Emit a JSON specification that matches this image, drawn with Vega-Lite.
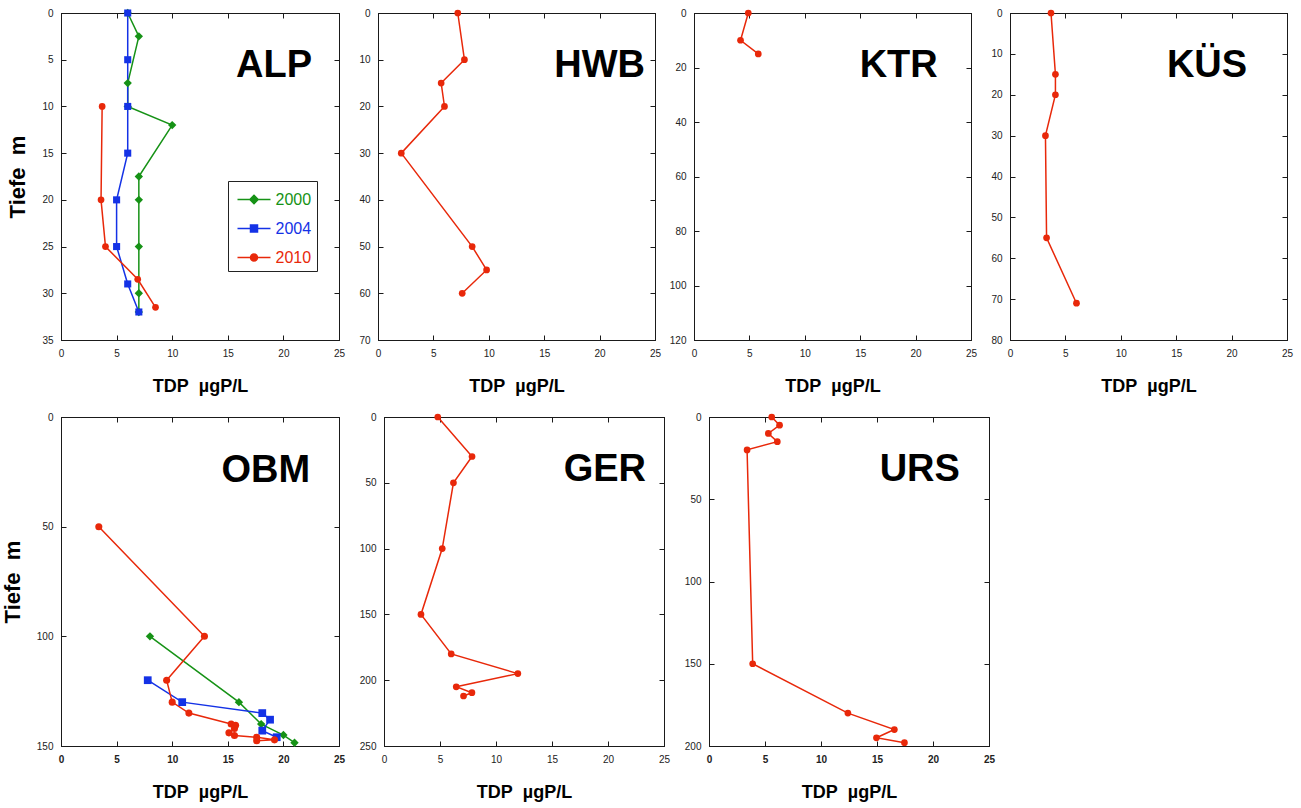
{
  "$schema": "https://vega.github.io/schema/vega-lite/v6.json",
  "padding": {"left": 0, "top": 7, "right": 5, "bottom": 5},
  "autosize": {"type": "pad"},
  "background": "white",
  "datasets": {
    "tdp": [
      {"See": "ALP", "Jahr": "2000", "Tiefe": 0, "TDP": 6},
      {"See": "ALP", "Jahr": "2000", "Tiefe": 2.5, "TDP": 7},
      {"See": "ALP", "Jahr": "2000", "Tiefe": 7.5, "TDP": 6},
      {"See": "ALP", "Jahr": "2000", "Tiefe": 10, "TDP": 6},
      {"See": "ALP", "Jahr": "2000", "Tiefe": 12, "TDP": 10},
      {"See": "ALP", "Jahr": "2000", "Tiefe": 17.5, "TDP": 7},
      {"See": "ALP", "Jahr": "2000", "Tiefe": 20, "TDP": 7},
      {"See": "ALP", "Jahr": "2000", "Tiefe": 25, "TDP": 7},
      {"See": "ALP", "Jahr": "2000", "Tiefe": 30, "TDP": 7},
      {"See": "ALP", "Jahr": "2000", "Tiefe": 32, "TDP": 7},
      {"See": "ALP", "Jahr": "2004", "Tiefe": 0, "TDP": 6},
      {"See": "ALP", "Jahr": "2004", "Tiefe": 5, "TDP": 6},
      {"See": "ALP", "Jahr": "2004", "Tiefe": 10, "TDP": 6},
      {"See": "ALP", "Jahr": "2004", "Tiefe": 15, "TDP": 6},
      {"See": "ALP", "Jahr": "2004", "Tiefe": 20, "TDP": 5},
      {"See": "ALP", "Jahr": "2004", "Tiefe": 25, "TDP": 5},
      {"See": "ALP", "Jahr": "2004", "Tiefe": 29, "TDP": 6},
      {"See": "ALP", "Jahr": "2004", "Tiefe": 32, "TDP": 7},
      {"See": "ALP", "Jahr": "2010", "Tiefe": 10, "TDP": 3.7},
      {"See": "ALP", "Jahr": "2010", "Tiefe": 20, "TDP": 3.6},
      {"See": "ALP", "Jahr": "2010", "Tiefe": 25, "TDP": 4.0},
      {"See": "ALP", "Jahr": "2010", "Tiefe": 28.5, "TDP": 6.9},
      {"See": "ALP", "Jahr": "2010", "Tiefe": 31.5, "TDP": 8.5},
      {"See": "HWB", "Jahr": "2010", "Tiefe": 0, "TDP": 7.2},
      {"See": "HWB", "Jahr": "2010", "Tiefe": 10, "TDP": 7.8},
      {"See": "HWB", "Jahr": "2010", "Tiefe": 15, "TDP": 5.7},
      {"See": "HWB", "Jahr": "2010", "Tiefe": 20, "TDP": 6.0},
      {"See": "HWB", "Jahr": "2010", "Tiefe": 30, "TDP": 2.1},
      {"See": "HWB", "Jahr": "2010", "Tiefe": 50, "TDP": 8.5},
      {"See": "HWB", "Jahr": "2010", "Tiefe": 55, "TDP": 9.8},
      {"See": "HWB", "Jahr": "2010", "Tiefe": 60, "TDP": 7.6},
      {"See": "KTR", "Jahr": "2010", "Tiefe": 0, "TDP": 4.9},
      {"See": "KTR", "Jahr": "2010", "Tiefe": 10, "TDP": 4.2},
      {"See": "KTR", "Jahr": "2010", "Tiefe": 15, "TDP": 5.8},
      {"See": "KÜS", "Jahr": "2010", "Tiefe": 0, "TDP": 3.7},
      {"See": "KÜS", "Jahr": "2010", "Tiefe": 15, "TDP": 4.1},
      {"See": "KÜS", "Jahr": "2010", "Tiefe": 20, "TDP": 4.1},
      {"See": "KÜS", "Jahr": "2010", "Tiefe": 30, "TDP": 3.2},
      {"See": "KÜS", "Jahr": "2010", "Tiefe": 55, "TDP": 3.3},
      {"See": "KÜS", "Jahr": "2010", "Tiefe": 71, "TDP": 6.0},
      {"See": "OBM", "Jahr": "2000", "Tiefe": 100, "TDP": 8.0},
      {"See": "OBM", "Jahr": "2000", "Tiefe": 130, "TDP": 16.0},
      {"See": "OBM", "Jahr": "2000", "Tiefe": 140, "TDP": 18.0},
      {"See": "OBM", "Jahr": "2000", "Tiefe": 145, "TDP": 20.0},
      {"See": "OBM", "Jahr": "2000", "Tiefe": 148.5, "TDP": 21.0},
      {"See": "OBM", "Jahr": "2004", "Tiefe": 120, "TDP": 7.8},
      {"See": "OBM", "Jahr": "2004", "Tiefe": 130, "TDP": 10.9},
      {"See": "OBM", "Jahr": "2004", "Tiefe": 135, "TDP": 18.1},
      {"See": "OBM", "Jahr": "2004", "Tiefe": 138, "TDP": 18.8},
      {"See": "OBM", "Jahr": "2004", "Tiefe": 143, "TDP": 18.1},
      {"See": "OBM", "Jahr": "2004", "Tiefe": 146, "TDP": 19.4},
      {"See": "OBM", "Jahr": "2010", "Tiefe": 50, "TDP": 3.4},
      {"See": "OBM", "Jahr": "2010", "Tiefe": 100, "TDP": 12.9},
      {"See": "OBM", "Jahr": "2010", "Tiefe": 120, "TDP": 9.5},
      {"See": "OBM", "Jahr": "2010", "Tiefe": 130, "TDP": 10.0},
      {"See": "OBM", "Jahr": "2010", "Tiefe": 135, "TDP": 11.5},
      {"See": "OBM", "Jahr": "2010", "Tiefe": 140, "TDP": 15.3},
      {"See": "OBM", "Jahr": "2010", "Tiefe": 140.5, "TDP": 15.7},
      {"See": "OBM", "Jahr": "2010", "Tiefe": 142, "TDP": 15.6},
      {"See": "OBM", "Jahr": "2010", "Tiefe": 144, "TDP": 15.1},
      {"See": "OBM", "Jahr": "2010", "Tiefe": 145.2, "TDP": 15.6},
      {"See": "OBM", "Jahr": "2010", "Tiefe": 146, "TDP": 17.6},
      {"See": "OBM", "Jahr": "2010", "Tiefe": 147.2, "TDP": 19.2},
      {"See": "OBM", "Jahr": "2010", "Tiefe": 147.6, "TDP": 17.6},
      {"See": "GER", "Jahr": "2010", "Tiefe": 0, "TDP": 4.8},
      {"See": "GER", "Jahr": "2010", "Tiefe": 30, "TDP": 7.86},
      {"See": "GER", "Jahr": "2010", "Tiefe": 50, "TDP": 6.2},
      {"See": "GER", "Jahr": "2010", "Tiefe": 100, "TDP": 5.2},
      {"See": "GER", "Jahr": "2010", "Tiefe": 150, "TDP": 3.3},
      {"See": "GER", "Jahr": "2010", "Tiefe": 180, "TDP": 6.0},
      {"See": "GER", "Jahr": "2010", "Tiefe": 195, "TDP": 11.95},
      {"See": "GER", "Jahr": "2010", "Tiefe": 205, "TDP": 6.45},
      {"See": "GER", "Jahr": "2010", "Tiefe": 209.5, "TDP": 7.85},
      {"See": "GER", "Jahr": "2010", "Tiefe": 212, "TDP": 7.1},
      {"See": "URS", "Jahr": "2010", "Tiefe": 0, "TDP": 5.6},
      {"See": "URS", "Jahr": "2010", "Tiefe": 5, "TDP": 6.3},
      {"See": "URS", "Jahr": "2010", "Tiefe": 10, "TDP": 5.3},
      {"See": "URS", "Jahr": "2010", "Tiefe": 15, "TDP": 6.1},
      {"See": "URS", "Jahr": "2010", "Tiefe": 20, "TDP": 3.4},
      {"See": "URS", "Jahr": "2010", "Tiefe": 150, "TDP": 3.9},
      {"See": "URS", "Jahr": "2010", "Tiefe": 180, "TDP": 12.4},
      {"See": "URS", "Jahr": "2010", "Tiefe": 190, "TDP": 16.55},
      {"See": "URS", "Jahr": "2010", "Tiefe": 195, "TDP": 14.95},
      {"See": "URS", "Jahr": "2010", "Tiefe": 198, "TDP": 17.45}
    ]
  },
  "data": {"name": "tdp"},
  "spacing": 15,
  "bounds": "full",
  "resolve": {"scale": {"color": "independent", "shape": "independent", "size": "independent"}, "legend": {"color": "independent", "shape": "independent", "size": "independent"}},
  "vconcat": [
    {
      "spacing": 39,
      "bounds": "flush",
      "resolve": {"scale": {"color": "independent", "shape": "independent", "size": "independent"}, "legend": {"color": "independent", "shape": "independent", "size": "independent"}},
      "hconcat": [
        {
          "width": 278, "height": 327,
          "transform": [{"filter": "datum.See === 'ALP'"}],
          "layer": [
            {
              "mark": {"type": "line", "strokeWidth": 1.5},
              "encoding": {
                "x": {"field": "TDP", "type": "quantitative", "scale": {"domain": [0, 25], "nice": false, "zero": false}, "axis": {"orient": "bottom", "values": [0, 5, 10, 15, 20, 25], "title": "TDP\u00a0 µgP/L", "titleFontSize": 18, "titlePadding": 19}},
                "y": {"field": "Tiefe", "type": "quantitative", "scale": {"domain": [0, 35], "reverse": true, "nice": false, "zero": false}, "axis": {"orient": "left", "values": [0, 5, 10, 15, 20, 25, 30, 35], "title": "Tiefe\u00a0 m", "titleFontSize": 22, "titlePadding": 12}},
                "color": {"field": "Jahr", "type": "nominal", "scale": {"domain": ["2000", "2004", "2010"], "range": ["#169216", "#1432e6", "#e8280a"]},
                  "legend": {
                    "orient": "none", "legendX": 167, "legendY": 168, "title": null,
                    "symbolSize": 625, "symbolStrokeWidth": 1.5, "symbolOffset": 7.5,
                    "labelFontSize": 16, "labelFont": "Liberation Sans", "labelOffset": 8,
                    "strokeColor": "#222", "fillColor": "white", "padding": 5, "rowPadding": 7,
                    "encode": {
                      "symbols": {"update": {
                        "shape": {"signal": "datum.value === '2000' ? 'M-1.32,0H1.32M0,-0.33L0.33,0L0,0.33L-0.33,0Z' : datum.value === '2004' ? 'M-1.32,0H1.32M-0.28,-0.28H0.28V0.28H-0.28Z' : 'M-1.32,0H1.32M-0.28,0A0.28,0.28,0,1,0,0.28,0A0.28,0.28,0,1,0,-0.28,0Z'"},
                        "stroke": {"signal": "datum.value === '2000' ? '#169216' : datum.value === '2004' ? '#1432e6' : '#e8280a'"},
                        "fill": {"signal": "datum.value === '2000' ? '#169216' : datum.value === '2004' ? '#1432e6' : '#e8280a'"},
                        "strokeWidth": {"value": 1.5},
                        "size": {"value": 625},
                        "opacity": {"value": 1}
                      }},
                      "labels": {"update": {
                        "fill": {"signal": "datum.value === '2000' ? '#169216' : datum.value === '2004' ? '#1432e6' : '#e8280a'"}
                      }}
                    }
                  }
                },
                "order": {"field": "Tiefe", "type": "quantitative"}
              }
            },
            {
              "transform": [{"filter": "datum.Jahr === '2000'"}],
              "mark": {"type": "point", "filled": true, "opacity": 1, "shape": "diamond", "size": 70, "color": "#169216"},
              "encoding": {
                "x": {"field": "TDP", "type": "quantitative", "axis": null},
                "y": {"field": "Tiefe", "type": "quantitative", "axis": null}
              }
            },
            {
              "transform": [{"filter": "datum.Jahr === '2004'"}],
              "mark": {"type": "point", "filled": true, "opacity": 1, "shape": "square", "size": 50, "color": "#1432e6"},
              "encoding": {
                "x": {"field": "TDP", "type": "quantitative", "axis": null},
                "y": {"field": "Tiefe", "type": "quantitative", "axis": null}
              }
            },
            {
              "transform": [{"filter": "datum.Jahr === '2010'"}],
              "mark": {"type": "point", "filled": true, "opacity": 1, "shape": "circle", "size": 45, "color": "#e8280a"},
              "encoding": {
                "x": {"field": "TDP", "type": "quantitative", "axis": null},
                "y": {"field": "Tiefe", "type": "quantitative", "axis": null}
              }
            },
            {
              "data": {"values": [{"label": "ALP"}]},
              "mark": {"type": "text", "fontSize": 38, "fontWeight": "bold", "align": "right", "baseline": "alphabetic", "color": "#000"},
              "encoding": {
                "x": {"datum": 22.57, "type": "quantitative", "axis": {"orient": "top", "values": [0, 5, 10, 15, 20, 25], "labels": false, "title": null}},
                "y": {"datum": 6.85, "type": "quantitative", "axis": {"orient": "right", "values": [0, 5, 10, 15, 20, 25, 30, 35], "labels": false, "title": null}},
                "text": {"field": "label"}
              }
            }
          ],
          "resolve": {"axis": {"x": "independent", "y": "independent"}}
        },
        {
          "width": 277, "height": 327,
          "transform": [{"filter": "datum.See === 'HWB'"}],
          "layer": [
            {
              "mark": {"type": "line", "strokeWidth": 1.5, "color": "#e8280a"},
              "encoding": {
                "x": {"field": "TDP", "type": "quantitative", "scale": {"domain": [0, 25], "nice": false, "zero": false}, "axis": {"orient": "bottom", "values": [0, 5, 10, 15, 20, 25], "title": "TDP\u00a0 µgP/L", "titleFontSize": 18, "titlePadding": 19}},
                "y": {"field": "Tiefe", "type": "quantitative", "scale": {"domain": [0, 70], "reverse": true, "nice": false, "zero": false}, "axis": {"orient": "left", "values": [0, 10, 20, 30, 40, 50, 60, 70], "title": null}},
                "order": {"field": "Tiefe", "type": "quantitative"}
              }
            },
            {
              "mark": {"type": "point", "filled": true, "opacity": 1, "size": 45, "shape": "circle", "color": "#e8280a"},
              "encoding": {
                "x": {"field": "TDP", "type": "quantitative", "axis": null},
                "y": {"field": "Tiefe", "type": "quantitative", "axis": null}
              }
            },
            {
              "data": {"values": [{"label": "HWB"}]},
              "mark": {"type": "text", "fontSize": 38, "fontWeight": "bold", "align": "right", "baseline": "alphabetic", "color": "#000"},
              "encoding": {
                "x": {"datum": 24.1, "type": "quantitative", "axis": {"orient": "top", "values": [0, 5, 10, 15, 20, 25], "labels": false, "title": null}},
                "y": {"datum": 13.7, "type": "quantitative", "axis": {"orient": "right", "values": [0, 10, 20, 30, 40, 50, 60, 70], "labels": false, "title": null}},
                "text": {"field": "label"}
              }
            }
          ],
          "resolve": {"axis": {"x": "independent", "y": "independent"}}
        },
        {
          "width": 277, "height": 327,
          "transform": [{"filter": "datum.See === 'KTR'"}],
          "layer": [
            {
              "mark": {"type": "line", "strokeWidth": 1.5, "color": "#e8280a"},
              "encoding": {
                "x": {"field": "TDP", "type": "quantitative", "scale": {"domain": [0, 25], "nice": false, "zero": false}, "axis": {"orient": "bottom", "values": [0, 5, 10, 15, 20, 25], "title": "TDP\u00a0 µgP/L", "titleFontSize": 18, "titlePadding": 19}},
                "y": {"field": "Tiefe", "type": "quantitative", "scale": {"domain": [0, 120], "reverse": true, "nice": false, "zero": false}, "axis": {"orient": "left", "values": [0, 20, 40, 60, 80, 100, 120], "title": null}},
                "order": {"field": "Tiefe", "type": "quantitative"}
              }
            },
            {
              "mark": {"type": "point", "filled": true, "opacity": 1, "size": 45, "shape": "circle", "color": "#e8280a"},
              "encoding": {
                "x": {"field": "TDP", "type": "quantitative", "axis": null},
                "y": {"field": "Tiefe", "type": "quantitative", "axis": null}
              }
            },
            {
              "data": {"values": [{"label": "KTR"}]},
              "mark": {"type": "text", "fontSize": 38, "fontWeight": "bold", "align": "right", "baseline": "alphabetic", "color": "#000"},
              "encoding": {
                "x": {"datum": 22.0, "type": "quantitative", "axis": {"orient": "top", "values": [0, 5, 10, 15, 20, 25], "labels": false, "title": null}},
                "y": {"datum": 23.6, "type": "quantitative", "axis": {"orient": "right", "values": [0, 20, 40, 60, 80, 100, 120], "labels": false, "title": null}},
                "text": {"field": "label"}
              }
            }
          ],
          "resolve": {"axis": {"x": "independent", "y": "independent"}}
        },
        {
          "width": 277, "height": 327,
          "transform": [{"filter": "datum.See === 'KÜS'"}],
          "layer": [
            {
              "mark": {"type": "line", "strokeWidth": 1.5, "color": "#e8280a"},
              "encoding": {
                "x": {"field": "TDP", "type": "quantitative", "scale": {"domain": [0, 25], "nice": false, "zero": false}, "axis": {"orient": "bottom", "values": [0, 5, 10, 15, 20, 25], "title": "TDP\u00a0 µgP/L", "titleFontSize": 18, "titlePadding": 19}},
                "y": {"field": "Tiefe", "type": "quantitative", "scale": {"domain": [0, 80], "reverse": true, "nice": false, "zero": false}, "axis": {"orient": "left", "values": [0, 10, 20, 30, 40, 50, 60, 70, 80], "title": null}},
                "order": {"field": "Tiefe", "type": "quantitative"}
              }
            },
            {
              "mark": {"type": "point", "filled": true, "opacity": 1, "size": 45, "shape": "circle", "color": "#e8280a"},
              "encoding": {
                "x": {"field": "TDP", "type": "quantitative", "axis": null},
                "y": {"field": "Tiefe", "type": "quantitative", "axis": null}
              }
            },
            {
              "data": {"values": [{"label": "KÜS"}]},
              "mark": {"type": "text", "fontSize": 38, "fontWeight": "bold", "align": "right", "baseline": "alphabetic", "color": "#000"},
              "encoding": {
                "x": {"datum": 21.4, "type": "quantitative", "axis": {"orient": "top", "values": [0, 5, 10, 15, 20, 25], "labels": false, "title": null}},
                "y": {"datum": 15.66, "type": "quantitative", "axis": {"orient": "right", "values": [0, 10, 20, 30, 40, 50, 60, 70, 80], "labels": false, "title": null}},
                "text": {"field": "label"}
              }
            }
          ],
          "resolve": {"axis": {"x": "independent", "y": "independent"}}
        }
      ]
    },
    {
      "spacing": 45,
      "bounds": "flush",
      "resolve": {"scale": {"color": "independent", "shape": "independent", "size": "independent"}, "legend": {"color": "independent", "shape": "independent", "size": "independent"}},
      "hconcat": [
        {
          "width": 278, "height": 329,
          "transform": [{"filter": "datum.See === 'OBM'"}],
          "layer": [
            {
              "mark": {"type": "line", "strokeWidth": 1.5},
              "encoding": {
                "x": {"field": "TDP", "type": "quantitative", "scale": {"domain": [0, 25], "nice": false, "zero": false}, "axis": {"orient": "bottom", "values": [0, 5, 10, 15, 20, 25], "title": "TDP\u00a0 µgP/L", "titleFontSize": 18, "titlePadding": 19, "labelFontWeight": "bold"}},
                "y": {"field": "Tiefe", "type": "quantitative", "scale": {"domain": [0, 150], "reverse": true, "nice": false, "zero": false}, "axis": {"orient": "left", "values": [0, 50, 100, 150], "title": "Tiefe\u00a0 m", "titleFontSize": 22, "titlePadding": 12}},
                "color": {"field": "Jahr", "type": "nominal", "scale": {"domain": ["2000", "2004", "2010"], "range": ["#169216", "#1432e6", "#e8280a"]}, "legend": null},
                "order": {"field": "Tiefe", "type": "quantitative"}
              }
            },
            {
              "mark": {"type": "point", "filled": true, "opacity": 1},
              "encoding": {
                "x": {"field": "TDP", "type": "quantitative", "axis": null},
                "y": {"field": "Tiefe", "type": "quantitative", "axis": null},
                "color": {"field": "Jahr", "type": "nominal", "scale": {"domain": ["2000", "2004", "2010"], "range": ["#169216", "#1432e6", "#e8280a"]}, "legend": null},
                "shape": {"field": "Jahr", "type": "nominal", "scale": {"domain": ["2000", "2004", "2010"], "range": ["diamond", "square", "circle"]}, "legend": null},
                "size": {"field": "Jahr", "type": "ordinal", "scale": {"domain": ["2000", "2004", "2010"], "range": [70, 50, 45]}, "legend": null}
              }
            },
            {
              "data": {"values": [{"label": "OBM"}]},
              "mark": {"type": "text", "fontSize": 38, "fontWeight": "bold", "align": "right", "baseline": "alphabetic", "color": "#000"},
              "encoding": {
                "x": {"datum": 22.4, "type": "quantitative", "axis": {"orient": "top", "values": [0, 5, 10, 15, 20, 25], "labels": false, "title": null}},
                "y": {"datum": 29.5, "type": "quantitative", "axis": {"orient": "right", "values": [0, 50, 100, 150], "labels": false, "title": null}},
                "text": {"field": "label"}
              }
            }
          ],
          "resolve": {"axis": {"x": "independent", "y": "independent"}}
        },
        {
          "width": 280, "height": 329,
          "transform": [{"filter": "datum.See === 'GER'"}],
          "layer": [
            {
              "mark": {"type": "line", "strokeWidth": 1.5, "color": "#e8280a"},
              "encoding": {
                "x": {"field": "TDP", "type": "quantitative", "scale": {"domain": [0, 25], "nice": false, "zero": false}, "axis": {"orient": "bottom", "values": [0, 5, 10, 15, 20, 25], "title": "TDP\u00a0 µgP/L", "titleFontSize": 18, "titlePadding": 19}},
                "y": {"field": "Tiefe", "type": "quantitative", "scale": {"domain": [0, 250], "reverse": true, "nice": false, "zero": false}, "axis": {"orient": "left", "values": [0, 50, 100, 150, 200, 250], "title": null}},
                "order": {"field": "Tiefe", "type": "quantitative"}
              }
            },
            {
              "mark": {"type": "point", "filled": true, "opacity": 1, "size": 45, "shape": "circle", "color": "#e8280a"},
              "encoding": {
                "x": {"field": "TDP", "type": "quantitative", "axis": null},
                "y": {"field": "Tiefe", "type": "quantitative", "axis": null}
              }
            },
            {
              "data": {"values": [{"label": "GER"}]},
              "mark": {"type": "text", "fontSize": 38, "fontWeight": "bold", "align": "right", "baseline": "alphabetic", "color": "#000"},
              "encoding": {
                "x": {"datum": 23.4, "type": "quantitative", "axis": {"orient": "top", "values": [0, 5, 10, 15, 20, 25], "labels": false, "title": null}},
                "y": {"datum": 48.7, "type": "quantitative", "axis": {"orient": "right", "values": [0, 50, 100, 150, 200, 250], "labels": false, "title": null}},
                "text": {"field": "label"}
              }
            }
          ],
          "resolve": {"axis": {"x": "independent", "y": "independent"}}
        },
        {
          "width": 280, "height": 329,
          "transform": [{"filter": "datum.See === 'URS'"}],
          "layer": [
            {
              "mark": {"type": "line", "strokeWidth": 1.5, "color": "#e8280a"},
              "encoding": {
                "x": {"field": "TDP", "type": "quantitative", "scale": {"domain": [0, 25], "nice": false, "zero": false}, "axis": {"orient": "bottom", "values": [0, 5, 10, 15, 20, 25], "title": "TDP\u00a0 µgP/L", "titleFontSize": 18, "titlePadding": 19, "labelFontWeight": "bold"}},
                "y": {"field": "Tiefe", "type": "quantitative", "scale": {"domain": [0, 200], "reverse": true, "nice": false, "zero": false}, "axis": {"orient": "left", "values": [0, 50, 100, 150, 200], "title": null}},
                "order": {"field": "Tiefe", "type": "quantitative"}
              }
            },
            {
              "mark": {"type": "point", "filled": true, "opacity": 1, "size": 45, "shape": "circle", "color": "#e8280a"},
              "encoding": {
                "x": {"field": "TDP", "type": "quantitative", "axis": null},
                "y": {"field": "Tiefe", "type": "quantitative", "axis": null}
              }
            },
            {
              "data": {"values": [{"label": "URS"}]},
              "mark": {"type": "text", "fontSize": 38, "fontWeight": "bold", "align": "right", "baseline": "alphabetic", "color": "#000"},
              "encoding": {
                "x": {"datum": 22.4, "type": "quantitative", "axis": {"orient": "top", "values": [0, 5, 10, 15, 20, 25], "labels": false, "title": null}},
                "y": {"datum": 38.7, "type": "quantitative", "axis": {"orient": "right", "values": [0, 50, 100, 150, 200], "labels": false, "title": null}},
                "text": {"field": "label"}
              }
            }
          ],
          "resolve": {"axis": {"x": "independent", "y": "independent"}}
        }
      ]
    }
  ],
  "config": {
    "font": "Liberation Sans",
    "view": {"stroke": "#1a1a1a", "strokeWidth": 1},
    "axis": {
      "grid": false,
      "domainColor": "#1a1a1a",
      "tickColor": "#1a1a1a",
      "tickSize": -5,
      "labelPadding": 13,
      "labelFont": "Liberation Sans",
      "labelFontSize": 10,
      "labelColor": "#222",
      "labelFlush": false,
      "labelOverlap": false,
      "titleFont": "Liberation Sans",
      "titleFontWeight": "bold",
      "titleColor": "#000"
    }
  }
}
